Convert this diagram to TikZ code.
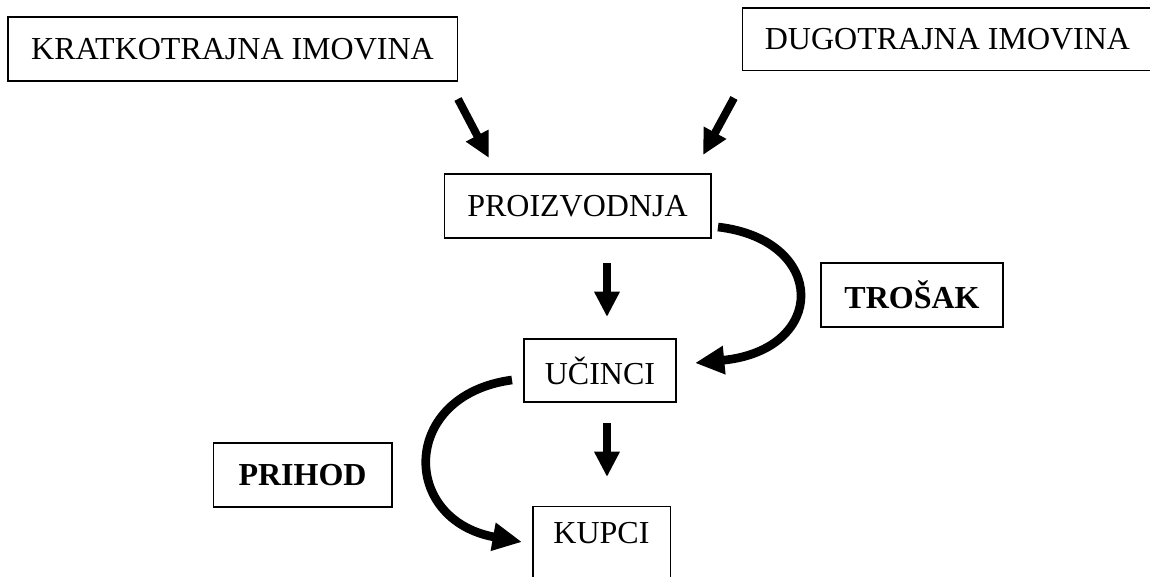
\documentclass[tikz,border=0pt]{standalone}
\usepackage{fontspec}
\setmainfont{Liberation Serif}
\usetikzlibrary{arrows.meta}

\begin{document}
\begin{tikzpicture}[x=0.75pt,y=-0.75pt,
    box/.style={draw,line width=1pt,inner sep=0pt,font=\fontsize{24}{28}\selectfont},
    flow/.style={line width=6pt,-{Triangle[length=19pt,width=18pt]}},
    bigflow/.style={line width=6.5pt,-{Triangle[length=22pt,width=20pt]}}]
   \useasboundingbox (0,0) rectangle (1150,577);
   \clip (0,0) rectangle (1150,577);
   \node[box,minimum width=337pt,minimum height=48pt] (kratko) at (232.5,49) {KRATKOTRAJNA IMOVINA};
   \node[box,minimum width=308pt,minimum height=47pt] (dugo) at (947.5,39.5) {DUGOTRAJNA IMOVINA};
   \node[box,minimum width=200pt,minimum height=48pt] (proiz) at (577.5,206) {PROIZVODNJA};
   \node[box,minimum width=114pt,minimum height=47pt] (ucinci) at (600,370.5) {UČINCI};
   \node[box,minimum width=136.5pt,minimum height=48pt,font=\fontsize{24}{28}\selectfont\bfseries] (trosak) at (912,295) {TROŠAK};
   \node[box,minimum width=134pt,minimum height=48pt,font=\fontsize{24}{28}\selectfont\bfseries] (prihod) at (302.5,475) {PRIHOD};
   \node[box,anchor=north,minimum width=103pt,inner ysep=12pt,text depth=70pt] (kupci) at (601.5,506) {KUPCI};
   % arrow ends
   \coordinate (k1) at (458,99);  \coordinate (k2) at (489,158);
   \coordinate (d1) at (734,98);  \coordinate (d2) at (703,155);
   \coordinate (p1) at (607,263); \coordinate (p2) at (607,317);
   \coordinate (u1) at (607,423); \coordinate (u2) at (607,477);
   \coordinate (t1) at (718,227); \coordinate (t2) at (695,363);
   \coordinate (h1) at (512,380); \coordinate (h2) at (522,542);
   \path[flow]
    (k1) edge (k2)
    (d1) edge (d2)
    (p1) edge (p2)
    (u1) edge (u2);
   \draw[bigflow] (t1) .. controls (828,240) and (828,350) .. (t2);
   \draw[bigflow] (h1) .. controls (400,395) and (400,520) .. (h2);
\end{tikzpicture}
\end{document}
